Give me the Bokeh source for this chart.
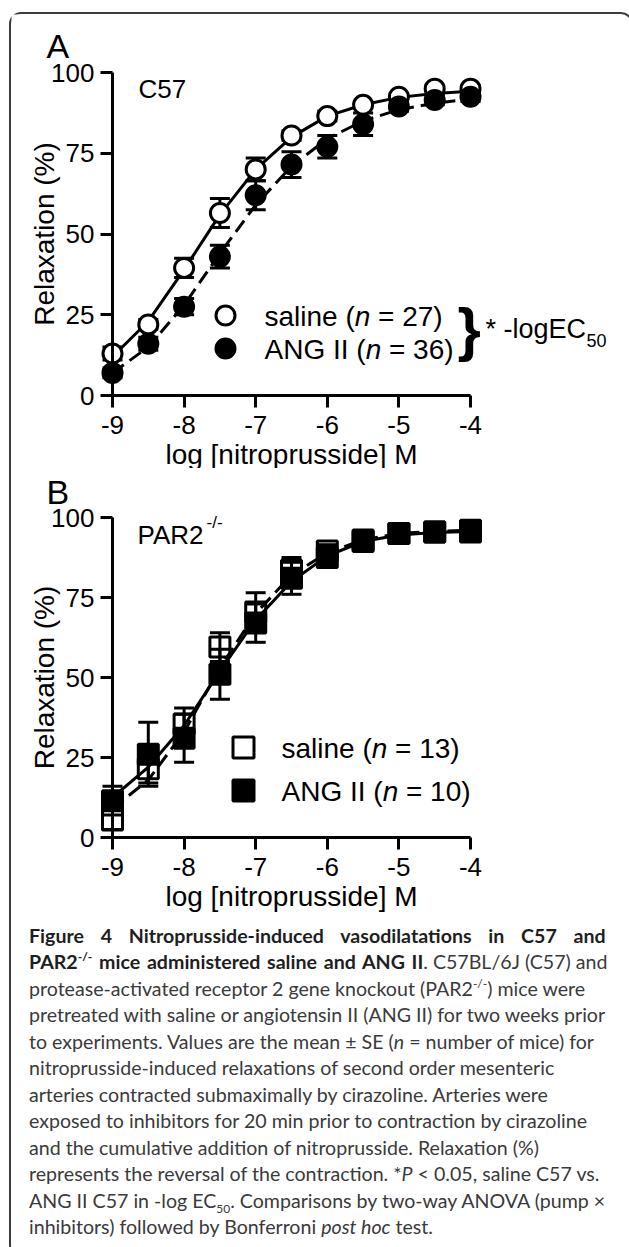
from bokeh.plotting import figure
from bokeh.models import Range1d, LinearAxis, FixedTicker, Div
from bokeh.layouts import column
from bokeh.embed import file_html
from bokeh.resources import INLINE
from bokeh.core.properties import value

# ---------------- data ----------------
log_conc = [-9.0, -8.5, -8.0, -7.5, -7.0, -6.5, -6.0, -5.5, -5.0, -4.5, -4.0]

# Panel A : C57
c57_saline = [13.0, 22.0, 39.5, 56.5, 70.0, 80.5, 86.5, 90.0, 92.5, 95.0, 95.0]
c57_saline_se = [2.0, 1.5, 3.0, 4.5, 3.5, 1.5, 1.5, 1.0, 1.0, 1.0, 1.0]
c57_ang = [7.0, 16.0, 27.5, 43.0, 62.0, 71.5, 77.0, 84.0, 89.5, 91.5, 92.5]
c57_ang_se = [1.5, 2.0, 2.5, 3.5, 4.5, 4.0, 3.5, 3.5, 1.5, 1.5, 1.5]
c57_saline_fit = [12.0, 23.0, 39.0, 56.0, 70.0, 80.0, 86.5, 90.0, 92.3, 93.5, 94.2]
c57_ang_fit = [7.0, 15.0, 28.0, 44.0, 59.0, 71.0, 79.5, 85.0, 88.5, 90.5, 91.8]

# Panel B : PAR2-/-
par2_saline = [5.5, 21.5, 35.5, 59.5, 70.5, 83.5, 89.5, 93.0, 95.0, 95.5, 95.5]
par2_saline_se = [3.0, 4.5, 5.0, 4.5, 6.0, 4.0, 2.0, 1.5, 1.0, 1.0, 1.0]
par2_ang = [11.5, 26.0, 31.0, 51.0, 67.0, 81.0, 87.5, 92.5, 95.0, 95.5, 96.0]
par2_ang_se = [4.5, 10.0, 7.5, 7.8, 6.0, 5.0, 2.5, 1.5, 1.0, 1.0, 1.0]
par2_saline_fit = [12.5, 22.0, 35.0, 52.0, 68.0, 80.0, 88.0, 92.5, 94.5, 95.3, 95.6]
par2_ang_fit = [9.0, 18.0, 33.0, 53.0, 70.0, 82.0, 89.0, 93.0, 95.0, 95.7, 96.0]

x_ticks = [-9, -8, -7, -6, -5, -4]
x_tick_labels = ["-9", "-8", "-7", "-6", "-5", "-4"]
y_ticks = [0, 25, 50, 75, 100]
y_tick_labels = ["0", "25", "50", "75", "100"]

legend_a = [("saline (", "n", "= 27)"), ("ANG II (", "n", "= 36)")]
legend_b = [("saline (", "n", "= 13)"), ("ANG II (", "n", "= 10)")]

# ---------------- layout constants (page pixels) ----------------
W = 610
OX = 11
PX_LO, PX_HI = 112, 470
FONT = "Liberation Sans"


def make_panel(top, h, y0_px, y100_px):
    sx = (PX_HI - PX_LO) / 5.0
    x_start = -9 - (PX_LO - OX) / sx
    x_end = x_start + W / sx
    sy = (y0_px - y100_px) / 100.0
    y_end = 100 + (y100_px - top) / sy
    y_start = y_end - h / sy
    p = figure(width=W, height=h, x_range=Range1d(x_start, x_end),
               y_range=Range1d(y_start, y_end), x_axis_type=None, y_axis_type=None,
               toolbar_location=None, output_backend="svg", min_border=0)
    p.outline_line_color = None
    p.background_fill_color = "white"
    p.border_fill_color = "white"

    def X(px):
        return x_start + (px - OX) / sx

    def Y(py):
        return y_end - (py - top) / sy

    xa = LinearAxis(fixed_location=0, bounds=(-9, -4), ticker=FixedTicker(ticks=x_ticks),
                    axis_label="log [nitroprusside] M")
    xa.major_label_overrides = {t: l for t, l in zip(x_ticks, x_tick_labels)}
    ya = LinearAxis(fixed_location=-9, bounds=(0, 100), ticker=FixedTicker(ticks=y_ticks),
                    axis_label="Relaxation (%)")
    ya.major_label_overrides = {t: l for t, l in zip(y_ticks, y_tick_labels)}
    for ax in (xa, ya):
        ax.axis_line_width = 3
        ax.axis_line_color = "black"
        ax.major_tick_line_width = 3
        ax.major_tick_line_color = "black"
        ax.major_tick_out = 12
        ax.major_tick_in = 0
        ax.minor_tick_out = 0
        ax.minor_tick_in = 0
        ax.major_label_text_font = FONT
        ax.major_label_text_font_size = "26px"
        ax.major_label_text_color = "black"
        ax.axis_label_text_font = FONT
        ax.axis_label_text_font_size = "28px"
        ax.axis_label_text_font_style = "normal"
        ax.axis_label_text_color = "black"
    xa.major_label_standoff = 8
    ya.major_label_standoff = 6
    xa.axis_label_standoff = 2
    ya.axis_label_standoff = -12
    p.add_layout(xa, "below")
    p.add_layout(ya, "left")
    return p, X, Y


def txt(p, x, y, s, size, style="normal", align="left"):
    p.text(x=[x], y=[y], text=[s], text_font=value(FONT), text_font_size=value(size),
           text_font_style=style, text_align=align, text_baseline="middle",
           text_color="black")


def errbars(p, xs, ys, es):
    lo = [v - e for v, e in zip(ys, es)]
    hi = [v + e for v, e in zip(ys, es)]
    p.segment(x0=xs, y0=lo, x1=xs, y1=hi, line_width=3, line_color="black")
    p.scatter(xs, hi, marker="dash", size=20, line_width=3, line_color="black")
    p.scatter(xs, lo, marker="dash", size=20, line_width=3, line_color="black")


def legend_text(p, X, Y, x0, yc, parts, size):
    a, n, b = parts
    em = {"saline (": 3.223, "ANG II (": 3.612}[a]
    fs = float(size[:-2])
    txt(p, X(x0), Y(yc), a, size)
    txt(p, X(x0 + em * fs), Y(yc), n, size, style="italic")
    txt(p, X(x0 + (em + 0.556 + 0.278) * fs), Y(yc), b, size)


# ---------------- Panel A ----------------
TOP_A, H_A = 14, 454
pa, XA, YA = make_panel(TOP_A, H_A, 395, 72)
pa.line(log_conc, c57_saline_fit, line_width=3, line_color="black")
pa.line(log_conc, c57_ang_fit, line_width=3, line_color="black", line_dash="14 7")
errbars(pa, log_conc, c57_saline, c57_saline_se)
errbars(pa, log_conc, c57_ang, c57_ang_se)
pa.scatter(log_conc, c57_saline, marker="circle", size=19, fill_color="white",
           line_color="black", line_width=3)
pa.scatter(log_conc, c57_ang, marker="circle", size=19, fill_color="black",
           line_color="black", line_width=3)
txt(pa, XA(46), YA(45), "A", "34px")
txt(pa, XA(138), YA(88.5), "C57", "26px")
pa.scatter([XA(225)], [YA(315)], marker="circle", size=19, fill_color="white",
           line_color="black", line_width=3)
pa.scatter([XA(225)], [YA(348)], marker="circle", size=19, fill_color="black",
           line_color="black", line_width=3)
legend_text(pa, XA, YA, 264, 316, legend_a[0], "28px")
legend_text(pa, XA, YA, 264, 349, legend_a[1], "28px")
txt(pa, XA(457), YA(328.5), "}", "60px", style="bold")
txt(pa, XA(485), YA(328), "* -logEC", "27px")
txt(pa, XA(586), YA(340), "50", "18px")

# ---------------- Panel B ----------------
TOP_B, H_B = 468, 446
pb, XB, YB = make_panel(TOP_B, H_B, 837, 517)
pb.scatter(log_conc, par2_saline, marker="square", size=20, fill_color="white",
           line_color="black", line_width=3)
pb.line(log_conc, par2_saline_fit, line_width=3, line_color="black")
pb.line(log_conc, par2_ang_fit, line_width=3, line_color="black", line_dash="14 7")
errbars(pb, log_conc, par2_saline, par2_saline_se)
errbars(pb, log_conc, par2_ang, par2_ang_se)
pb.scatter(log_conc, par2_ang, marker="square", size=20, fill_color="black",
           line_color="black", line_width=3)
txt(pb, XB(46), YB(491.5), "B", "34px")
txt(pb, XB(137), YB(534), "PAR2", "26px")
txt(pb, XB(206), YB(522), "-/-", "17px")
pb.scatter([XB(243)], [YB(747)], marker="square", size=21, fill_color="white",
           line_color="black", line_width=3)
pb.scatter([XB(243)], [YB(790)], marker="square", size=21, fill_color="black",
           line_color="black", line_width=3)
legend_text(pb, XB, YB, 281, 747.5, legend_b[0], "28px")
legend_text(pb, XB, YB, 281, 791, legend_b[1], "28px")

# ---------------- caption ----------------
SUP = '<sup style="font-size:12px;line-height:0;">-/-</sup>'
caption_lines = [
    '<b style="color:#1e1e1e;word-spacing:12px;">Figure 4 Nitroprusside-induced vasodilatations in C57 and</b>',
    '<b style="color:#1e1e1e;word-spacing:2px;">PAR2' + SUP + ' mice administered saline and ANG II</b>. C57BL/6J (C57) and',
    'protease-activated receptor 2 gene knockout (PAR2' + SUP + ') mice were',
    'pretreated with saline or angiotensin II (ANG II) for two weeks prior',
    'to experiments. Values are the mean &plusmn; SE (<i>n</i> = number of mice) for',
    'nitroprusside-induced relaxations of second order mesenteric',
    'arteries contracted submaximally by cirazoline. Arteries were',
    'exposed to inhibitors for 20 min prior to contraction by cirazoline',
    'and the cumulative addition of nitroprusside. Relaxation (%)',
    'represents the reversal of the contraction. *<i>P</i> &lt; 0.05, saline C57 vs.',
    'ANG II C57 in -log EC<sub style="font-size:12px;line-height:0;">50</sub>. Comparisons by two-way ANOVA (pump &times;',
    'inhibitors) followed by Bonferroni <i>post hoc</i> test.',
]
cap_html = ('<div style="padding:4px 0 0 13px;font-family:Lato,sans-serif;font-size:19.6px;'
            'line-height:26.45px;color:#3a3a3a;white-space:nowrap;">'
            + "<br>".join(caption_lines) + "</div>")
cap = Div(text=cap_html, width=W, height=331, styles={"overflow": "hidden"})

layout = column(pa, pb, cap, styles={"border": "2px solid #3c3c3c", "border-radius": "12px",
                                     "margin-top": "12px", "margin-left": "9px"})

open("out.html", "w").write(file_html(layout, INLINE))
